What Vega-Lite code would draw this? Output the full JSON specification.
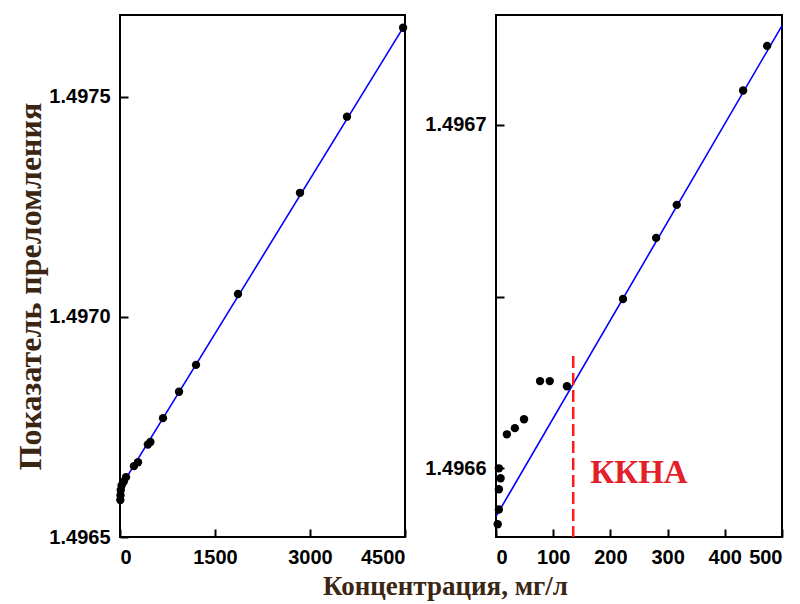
{
  "$schema": "https://vega.github.io/schema/vega-lite/v6.json",
  "background": "white",
  "padding": {"left": 12, "top": 14, "right": 14, "bottom": 5},
  "bounds": "flush",
  "spacing": 91,
  "config": {
    "view": {"stroke": "black", "strokeWidth": 2},
    "axis": {
      "grid": false,
      "domain": false,
      "labelFont": "Liberation Sans",
      "labelFontWeight": "bold",
      "labelFontSize": 20,
      "labelColor": "black",
      "tickColor": "black",
      "tickWidth": 2,
      "tickSize": -8,
      "labelPadding": 18
    }
  },
  "datasets": {
    "leftPts": [
      {"c": 4470, "n": 1.497657}, {"c": 3584, "n": 1.497455}, {"c": 2842, "n": 1.497282},
      {"c": 1863, "n": 1.497052}, {"c": 1200, "n": 1.496891}, {"c": 932, "n": 1.49683},
      {"c": 679, "n": 1.49677}, {"c": 480, "n": 1.496716}, {"c": 440, "n": 1.49671},
      {"c": 284, "n": 1.49667}, {"c": 220, "n": 1.496661}, {"c": 95, "n": 1.496636},
      {"c": 60, "n": 1.496626}, {"c": 25, "n": 1.496617}, {"c": 12, "n": 1.496607},
      {"c": 8, "n": 1.496595}, {"c": 5, "n": 1.496584}
    ],
    "leftLine": [{"c": 0, "n": 1.496611}, {"c": 4500, "n": 1.497664}],
    "rightPts": [
      {"c": 474, "n": 1.496723}, {"c": 432, "n": 1.49671}, {"c": 316, "n": 1.4966767},
      {"c": 280, "n": 1.4966671}, {"c": 222, "n": 1.4966493}, {"c": 124, "n": 1.4966239},
      {"c": 94, "n": 1.4966254}, {"c": 77, "n": 1.4966254}, {"c": 49, "n": 1.4966143},
      {"c": 33, "n": 1.4966117}, {"c": 19, "n": 1.4966099}, {"c": 5, "n": 1.4966},
      {"c": 8, "n": 1.4965971}, {"c": 5, "n": 1.4965939}, {"c": 5, "n": 1.496588},
      {"c": 3, "n": 1.4965837}
    ],
    "rightLine": [{"c": 0, "n": 1.496586}, {"c": 500, "n": 1.4967289}],
    "cmc": [{"c": 135, "n1": 1.4966327, "n2": 1.49658}],
    "lbl": [{"c": 250, "n": 1.4965985, "t": "ККНА"}]
  },
  "hconcat": [
    {
      "width": 285,
      "height": 522,
      "layer": [
        {
          "data": {"name": "leftLine"},
          "mark": {"type": "line", "color": "#0000ff", "strokeWidth": 1.6},
          "encoding": {
            "x": {
              "field": "c", "type": "quantitative",
              "scale": {"domain": [0, 4500], "nice": false},
              "axis": {
                "values": [0, 1500, 3000, 4500],
                "format": "d",
                "title": "Концентрация, мг/л",
                "titleFont": "Liberation Serif",
                "titleFontSize": 27,
                "titleFontWeight": "bold",
                "titleColor": "#3b2614",
                "titleX": 325,
                "titleY": 49,
                "titleBaseline": "middle",
                "titleAlign": "center"
              }
            },
            "y": {
              "field": "n", "type": "quantitative",
              "scale": {"domain": [1.4965, 1.497686], "nice": false, "zero": false},
              "axis": {
                "values": [1.4965, 1.497, 1.4975],
                "format": ".4f",
                "title": "Показатель преломления",
                "titleFont": "Liberation Serif",
                "titleFontSize": 32,
                "titleFontWeight": "bold",
                "titleColor": "#3b2614",
                "titleX": -90,
                "titleY": 271,
                "titleAngle": -90,
                "titleBaseline": "middle",
                "titleAlign": "center"
              }
            }
          }
        },
        {
          "data": {"name": "leftPts"},
          "mark": {"type": "point", "filled": true, "shape": "circle", "color": "black", "size": 70, "opacity": 1},
          "encoding": {
            "x": {"field": "c", "type": "quantitative"},
            "y": {"field": "n", "type": "quantitative"}
          }
        }
      ]
    },
    {
      "width": 286,
      "height": 522,
      "layer": [
        {
          "data": {"name": "rightLine"},
          "mark": {"type": "line", "color": "#0000ff", "strokeWidth": 1.6},
          "encoding": {
            "x": {
              "field": "c", "type": "quantitative",
              "scale": {"domain": [0, 500], "nice": false},
              "axis": {"values": [0, 100, 200, 300, 400, 500], "title": null}
            },
            "y": {
              "field": "n", "type": "quantitative",
              "scale": {"domain": [1.49658, 1.496732], "nice": false, "zero": false},
              "axis": {
                "values": [1.4966, 1.49665, 1.4967],
                "title": null,
                "labelExpr": "abs(datum.value * 10000 - round(datum.value * 10000)) < 0.01 ? format(datum.value, '.4f') : ''"
              }
            }
          }
        },
        {
          "data": {"name": "rightPts"},
          "mark": {"type": "point", "filled": true, "shape": "circle", "color": "black", "size": 70, "opacity": 1},
          "encoding": {
            "x": {"field": "c", "type": "quantitative"},
            "y": {"field": "n", "type": "quantitative"}
          }
        },
        {
          "data": {"name": "cmc"},
          "mark": {"type": "rule", "color": "#ff1a1a", "strokeWidth": 2.5, "strokeDash": [12, 5]},
          "encoding": {
            "x": {"field": "c", "type": "quantitative"},
            "y": {"field": "n1", "type": "quantitative"},
            "y2": {"field": "n2"}
          }
        },
        {
          "data": {"name": "lbl"},
          "mark": {"type": "text", "font": "Liberation Serif", "fontSize": 33, "fontWeight": "bold", "color": "#e3202a", "align": "center", "baseline": "middle"},
          "encoding": {
            "x": {"field": "c", "type": "quantitative"},
            "y": {"field": "n", "type": "quantitative"},
            "text": {"field": "t"}
          }
        }
      ],
      "resolve": {"scale": {"x": "shared", "y": "shared"}}
    }
  ],
  "resolve": {"scale": {"x": "independent", "y": "independent"}}
}
